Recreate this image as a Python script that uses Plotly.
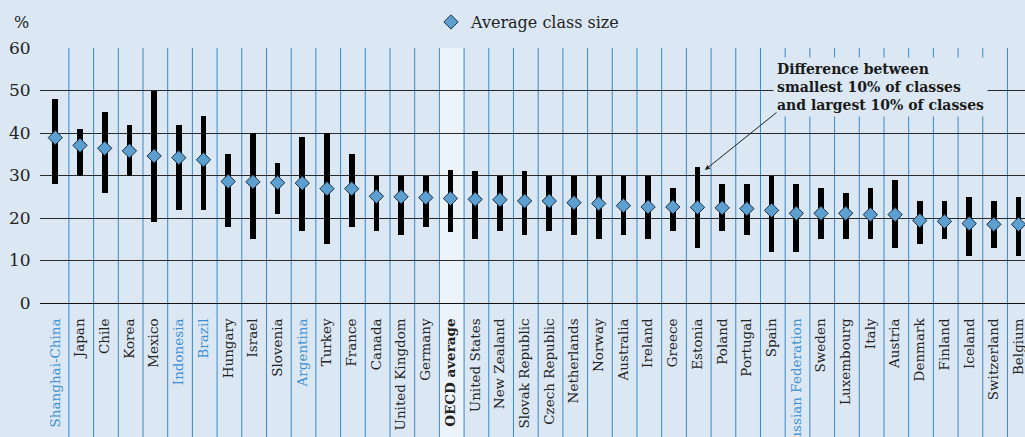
import plotly.graph_objects as go

# Class size by country: mean, and the 10th / 90th percentile class sizes
countries = ["Shanghai-China", "Japan", "Chile", "Korea", "Mexico", "Indonesia", "Brazil",
             "Hungary", "Israel", "Slovenia", "Argentina", "Turkey", "France", "Canada",
             "United Kingdom", "Germany", "OECD average", "United States", "New Zealand",
             "Slovak Republic", "Czech Republic", "Netherlands", "Norway", "Australia",
             "Ireland", "Greece", "Estonia", "Poland", "Portugal", "Spain",
             "Russian Federation", "Sweden", "Luxembourg", "Italy", "Austria", "Denmark",
             "Finland", "Iceland", "Switzerland", "Belgium"]

avg_size = [38.9, 37.1, 36.4, 35.8, 34.6, 34.2, 33.7, 28.6, 28.5, 28.3, 28.2, 26.9, 26.9,
            25.1, 25.0, 24.8, 24.6, 24.4, 24.3, 24.0, 24.0, 23.6, 23.4, 22.9, 22.6, 22.6,
            22.5, 22.4, 22.2, 21.8, 21.1, 21.1, 21.1, 20.8, 20.8, 19.4, 19.2, 18.7, 18.5, 18.5]

smallest_10 = [28, 30, 26, 30, 19, 22, 22, 18, 15, 21, 17, 14, 18, 17, 16, 18, 16.7, 15, 17,
               16, 17, 16, 15, 16, 15, 17, 13, 17, 16, 12, 12, 15, 15, 15, 13, 14, 15, 11, 13, 11]

largest_10 = [48, 41, 45, 42, 50, 42, 44, 35, 40, 33, 39, 40, 35, 30, 30, 30, 31.4, 31, 30,
              31, 30, 30, 30, 30, 30, 27, 32, 28, 28, 30, 28, 27, 26, 27, 29, 24, 24, 25, 24, 25]

partners = {"Shanghai-China", "Indonesia", "Brazil", "Argentina", "Russian Federation"}
average_label = "OECD average"

BG = "#dbe8f3"
BAND = "#ecf3f9"
SEP = "#3a88c9"
DIAMOND = "#5c9fd1"
PARTNER_BLUE = "#3d8fd1"
FONT = "DejaVu Serif"

idx = list(range(len(countries)))


def tick_label(name):
    if name == average_label:
        return f"<b>{name}</b>"
    if name in partners:
        return f'<span style="color:{PARTNER_BLUE}">{name}</span>'
    return name


fig = go.Figure()

# Range bars between smallest and largest 10% of classes
fig.add_trace(go.Bar(
    x=idx,
    y=[h - l for h, l in zip(largest_10, smallest_10)],
    base=smallest_10,
    width=0.23,
    marker=dict(color="black", line=dict(width=0)),
    showlegend=False,
    hoverinfo="skip",
))

# Average class size markers
fig.add_trace(go.Scatter(
    x=idx, y=avg_size,
    mode="markers",
    name="Average class size",
    marker=dict(symbol="diamond", size=11, color=DIAMOND,
                line=dict(color="#1e2d3c", width=1)),
    cliponaxis=False,
))

shapes = []
# Highlight band behind the OECD average column
oi = countries.index(average_label)
shapes.append(dict(type="rect", xref="x", yref="paper", x0=oi - 0.45, x1=oi + 0.55,
                   y0=-0.6, y1=1, fillcolor=BAND, line=dict(width=0), layer="below"))
# Column separators running down through the label area
for i in range(len(countries)):
    shapes.append(dict(type="line", xref="x", yref="paper", x0=i + 0.55, x1=i + 0.55,
                       y0=-0.6, y1=1, line=dict(color=SEP, width=1), layer="below"))

annotations = [
    dict(text="%", xref="paper", yref="paper", x=-19 / 985, y=1 + 26 / 255.5,
         showarrow=False, font=dict(family=FONT, size=16, color="#222"),
         xanchor="center", yanchor="middle"),
    dict(text="Difference between<br>smallest 10% of classes<br>and largest 10% of classes",
         xref="x", yref="y", x=29.05, y=50.9, xanchor="left", yanchor="middle",
         align="left", showarrow=False, bgcolor=BG, borderpad=3,
         font=dict(family=FONT, size=14, color="#1a1a1a", weight="bold")),
    dict(text="", xref="x", yref="y", x=26.3, y=31.3, axref="x", ayref="y",
         ax=29.26, ay=45.1, showarrow=True, arrowhead=2, arrowsize=1,
         arrowwidth=1, arrowcolor="#222", standoff=0),
]

fig.update_layout(
    width=1025, height=437,
    margin=dict(l=40, r=0, t=48, b=134, autoexpand=False),
    paper_bgcolor=BG, plot_bgcolor=BG,
    font=dict(family=FONT, color="#222"),
    bargap=0,
    shapes=shapes,
    annotations=annotations,
    showlegend=True,
    legend=dict(orientation="h", x=(431 - 40) / 985, xanchor="left",
                y=1 + 26 / 255.5, yanchor="middle", bgcolor="rgba(0,0,0,0)",
                font=dict(family=FONT, size=16, color="#222")),
    xaxis=dict(
        range=[-0.62, 39.26], automargin=False, ticklabeloverflow="allow",
        tickmode="array", tickvals=idx, ticktext=[tick_label(c) for c in countries],
        tickangle=-90, tickfont=dict(family=FONT, size=13.5, color="#222"),
        ticks="outside", ticklen=9, tickcolor="rgba(0,0,0,0)",
        showgrid=False, zeroline=False, showline=False,
    ),
    yaxis=dict(
        range=[0, 60], tickmode="array", tickvals=[0, 10, 20, 30, 40, 50, 60],
        automargin=False,
        tickfont=dict(family=FONT, size=17, color="#222"),
        ticks="outside", ticklen=5, tickcolor="rgba(0,0,0,0)",
        showgrid=True, gridcolor="#2a2a2a", gridwidth=1,
        zeroline=True, zerolinecolor="#111", zerolinewidth=1,
        showline=False,
    ),
)

fig.write_html("out.html")
